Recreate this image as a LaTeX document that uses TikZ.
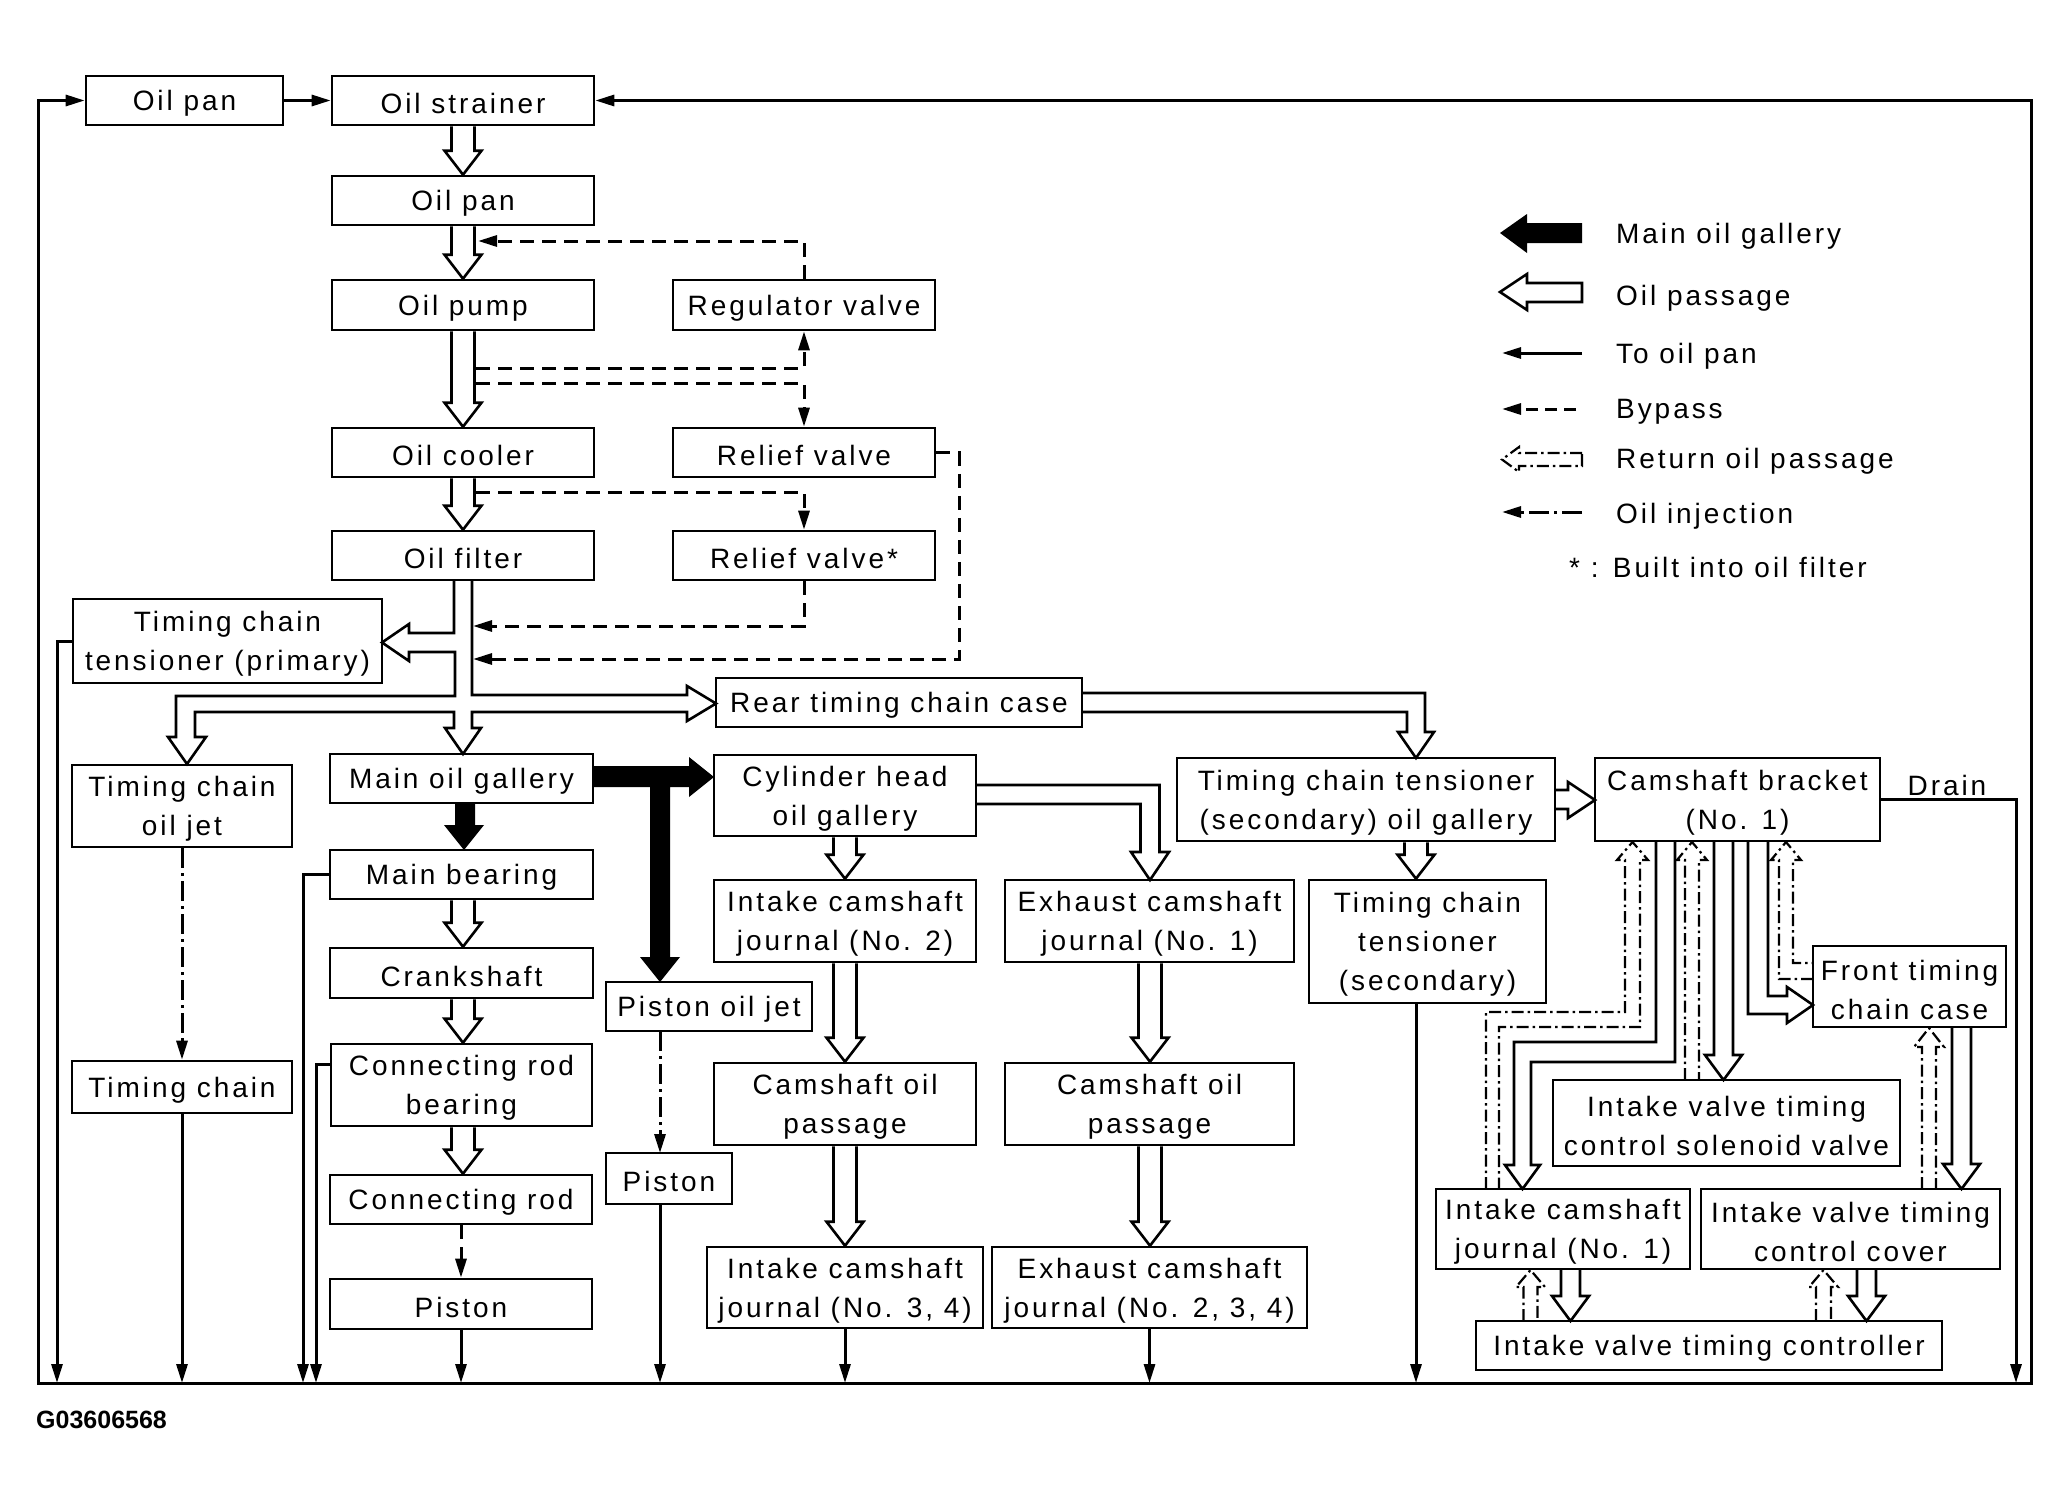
\documentclass[tikz,border=0pt]{standalone}
\usepackage{fontspec}
\setmainfont{Liberation Sans}[LetterSpace=10.5]
\newfontfamily\idfont{Liberation Sans}
\usetikzlibrary{arrows.meta,calc}
\tikzset{
 box/.style={draw, line width=2.6pt, inner sep=0pt},
 boxtext/.style={inner sep=0pt, align=center, font=\fontsize{28}{39}\selectfont, yshift=-3pt},
 flow/.style={line width=3pt, line join=miter},
 tipped/.style={-{Triangle[length=19pt,width=11pt]}},
 hol/.style={line width=2.6pt, line join=miter},
 byp/.style={line width=3pt, dash pattern=on 14pt off 8pt},
 inj/.style={line width=3pt, dash pattern=on 20pt off 5pt on 3pt off 5pt},
 ret/.style={line width=2.2pt, dash pattern=on 12pt off 4pt on 2.5pt off 4pt, line join=miter},
 lbl/.style={font=\fontsize{28}{39}\selectfont, inner sep=0pt, anchor=base west},
}
\newcommand\bx[6]{%
 \pgfmathsetmacro\bw{#4-#2}\pgfmathsetmacro\bh{#5-#3}%
 \node[box,minimum width=\bw pt,minimum height=\bh pt,label={[boxtext]center:#6}] (#1) at ({(#2+#4)/2},{(#3+#5)/2}) {};}
\newcommand\hdown[3]{%
 \draw[hol] let \p1=(#2.south), \p2=(#3.north) in
 ({(#1-11.5)*1pt},\y1) -- ({(#1-11.5)*1pt},\y2+24pt) -- ({(#1-18.5)*1pt},\y2+24pt) --
 ({#1*1pt},\y2) -- ({(#1+18.5)*1pt},\y2+24pt) -- ({(#1+11.5)*1pt},\y2+24pt) -- ({(#1+11.5)*1pt},\y1);}
\begin{document}
\begin{tikzpicture}[x=1pt,y=-1pt]
\fill[white] (0,0) rectangle (2069,1504);
\useasboundingbox (0,0) rectangle (2069,1504);
\coordinate (bot) at (0,1383);
% boxes
\bx{panA}{86}{76}{283}{125}{Oil pan}
\bx{strainer}{332}{76}{594}{125}{Oil strainer}
\bx{panB}{332}{176}{594}{225}{Oil pan}
\bx{pump}{332}{280}{594}{330}{Oil pump}
\bx{cooler}{332}{428}{594}{477}{Oil cooler}
\bx{filter}{332}{531}{594}{580}{Oil filter}
\bx{reg}{673}{280}{935}{330}{Regulator valve}
\bx{relief}{673}{428}{935}{477}{Relief valve}
\bx{reliefs}{673}{531}{935}{580}{Relief valve*}
\bx{tctp}{73}{599}{382}{683}{Timing chain\\tensioner (primary)}
\bx{rear}{716}{678}{1082}{727}{Rear timing chain case}
\bx{tcoj}{72}{765}{292}{847}{Timing chain\\oil jet}
\bx{mog}{330}{754}{593}{803}{Main oil gallery}
\bx{mb}{330}{850}{593}{899}{Main bearing}
\bx{crank}{330}{948}{593}{998}{Crankshaft}
\bx{crb}{331}{1044}{592}{1126}{Connecting rod\\bearing}
\bx{crod}{330}{1175}{592}{1224}{Connecting rod}
\bx{pistA}{330}{1279}{592}{1329}{Piston}
\bx{tch}{72}{1061}{292}{1113}{Timing chain}
\bx{poj}{606}{982}{812}{1031}{Piston oil jet}
\bx{pistB}{606}{1153}{732}{1204}{Piston}
\bx{chog}{714}{755}{976}{836}{Cylinder head\\oil gallery}
\bx{icjb}{714}{880}{976}{962}{Intake camshaft\\journal (No. 2)}
\bx{ecja}{1005}{880}{1294}{962}{Exhaust camshaft\\journal (No. 1)}
\bx{copa}{714}{1063}{976}{1145}{Camshaft oil\\passage}
\bx{copb}{1005}{1063}{1294}{1145}{Camshaft oil\\passage}
\bx{icjc}{707}{1247}{983}{1328}{Intake camshaft\\journal (No. 3, 4)}
\bx{ecjc}{992}{1247}{1307}{1328}{Exhaust camshaft\\journal (No. 2, 3, 4)}
\bx{tctg}{1177}{758}{1555}{841}{Timing chain tensioner\\(secondary) oil gallery}
\bx{tcts}{1309}{880}{1546}{1003}{Timing chain\\tensioner\\(secondary)}
\bx{cbr}{1595}{758}{1880}{841}{Camshaft bracket\\(No. 1)}
\bx{ftc}{1813}{946}{2006}{1027}{Front timing\\chain case}
\bx{sol}{1553}{1080}{1900}{1166}{Intake valve timing\\control solenoid valve}
\bx{icja}{1436}{1189}{1690}{1269}{Intake camshaft\\journal (No. 1)}
\bx{ivc}{1701}{1189}{2000}{1269}{Intake valve timing\\control cover}
\bx{ivt}{1476}{1321}{1942}{1370}{Intake valve timing controller}
% return loop (to oil pan)
\draw[flow,{Triangle[length=19pt,width=11pt]}-{Triangle[length=19pt,width=11pt]}] (panA.west) -| (38,1383) -- (2031,1383) |- (strainer.east);
\draw[flow,tipped] (panA.east) -- (strainer.west);
% drops to oil pan
\draw[flow,tipped] (tctp.west) -| (57,1383);
\draw[flow,tipped] (tch.south) -- (tch.south |- bot);
\draw[flow,tipped] (mb.west) -| (303,1383);
\draw[flow,tipped] (331,1064) -| (316,1383);
\draw[flow,tipped] (pistA.south) -- (pistA.south |- bot);
\draw[flow,tipped] (660,1204) -- (660,1383);
\draw[flow,tipped] (icjc.south) -- (icjc.south |- bot);
\draw[flow,tipped] (ecjc.south) -- (ecjc.south |- bot);
\draw[flow,tipped] (1416,1003) -- (1416,1383);
\draw[flow,tipped] (cbr.east) -| (2016,1383);
\node[lbl,anchor=base] (drain) at (1947,795) {Drain};
% oil injection
\draw[inj,tipped] (tcoj.south) -- (tch.north);
\draw[inj,tipped] (660,1031) -- (660,1153);
% bypass
\draw[byp,tipped] (reg.north) |- (478,241);
\draw[byp,tipped] (476,368) -| (reg.south);
\draw[byp,tipped] (476,383) -| (relief.north);
\draw[byp,tipped] (476,492) -| (reliefs.north);
\draw[byp,tipped] (reliefs.south) |- (473,626);
\draw[byp,tipped] (relief.east) -- (959,452.5) |- (473,659);
\draw[byp,tipped] (crod.south) -- (pistA.north);
% straight oil passages
\hdown{463}{strainer}{panB}
\hdown{463}{panB}{pump}
\hdown{463}{pump}{cooler}
\hdown{463}{cooler}{filter}
\hdown{463}{mb}{crank}
\hdown{463}{crank}{crb}
\hdown{463}{crb}{crod}
\hdown{845}{chog}{icjb}
\hdown{845}{icjb}{copa}
\hdown{845}{copa}{icjc}
\hdown{1150}{ecja}{copb}
\hdown{1150}{copb}{ecjc}
\hdown{1416}{tctg}{tcts}
% filter outflow
\draw[hol] (454,580) -- (454,633) -- (409,633) -- (409,624) -- (382,642.5) -- (409,661) -- (409,652) -- (455,652) -- (455,696) -- (176,696) -- (176,737) -- (168,737) -- (187,764) -- (206,737) -- (195,737) -- (195,712) -- (454,712) -- (454,728) -- (445,728) -- (463,754) -- (481,728) -- (472,728) -- (472,712) -- (687,712) -- (687,721) -- (716,703.5) -- (687,686) -- (687,695) -- (472,695) -- (472,580);
\draw[hol] (1082,693) -- (1425,693) -- (1425,732) -- (1434,732) -- (1416,758) -- (1398,732) -- (1407,732) -- (1407,712) -- (1082,712);
\draw[hol] (976,785) -- (1159.5,785) -- (1159.5,852) -- (1169,852) -- (1150,880) -- (1131,852) -- (1140.5,852) -- (1140.5,804) -- (976,804);
\draw[hol] (1555,790) -- (1568,790) -- (1568,782) -- (1595,800) -- (1568,818) -- (1568,809) -- (1555,809);
% main oil gallery
\fill[black] (593,766) -- (689,766) -- (689,757) -- (714,777) -- (689,797) -- (689,787) -- (670,787) -- (670,957) -- (680,957) -- (660,982) -- (640,957) -- (650,957) -- (650,787) -- (593,787) -- cycle;
\fill[black] (455,803) -- (455,825) -- (444,825) -- (464,850) -- (484,825) -- (475,825) -- (475,803) -- cycle;
% camshaft bracket cluster
\draw[hol] (1656,841) -- (1656,1042) -- (1514,1042) -- (1514,1165) -- (1505,1165) -- (1522.5,1189) -- (1540,1165) -- (1531,1165) -- (1531,1062) -- (1675,1062) -- (1675,841);
\draw[hol] (1714,841) -- (1714,1055) -- (1705,1055) -- (1723.5,1080) -- (1742,1055) -- (1733,1055) -- (1733,841);
\draw[hol] (1748,841) -- (1748,1014) -- (1787,1014) -- (1787,1023) -- (1813,1005) -- (1787,987) -- (1787,996) -- (1768,996) -- (1768,841);
\draw[hol] (1952,1027) -- (1952,1164) -- (1943,1164) -- (1961.5,1189) -- (1980,1164) -- (1971,1164) -- (1971,1027);
\draw[hol] (1561,1269) -- (1561,1296) -- (1552,1296) -- (1570.5,1321) -- (1589,1296) -- (1580,1296) -- (1580,1269);
\draw[hol] (1857,1269) -- (1857,1296) -- (1848,1296) -- (1866.5,1321) -- (1885,1296) -- (1876,1296) -- (1876,1269);
\draw[ret] (1486,1189) -- (1486,1012) -- (1625,1012) -- (1625,860) -- (1617,860) -- (1632.5,842) -- (1648,860) -- (1640,860) -- (1640,1027) -- (1499,1027) -- (1499,1189);
\draw[ret] (1685,1080) -- (1685,860) -- (1677,860) -- (1692,842) -- (1707,860) -- (1699,860) -- (1699,1080);
\draw[ret] (1813,979) -- (1779,979) -- (1779,860) -- (1771,860) -- (1786,842) -- (1801,860) -- (1793,860) -- (1793,963) -- (1813,963);
\draw[ret] (1922,1189) -- (1922,1047) -- (1914,1047) -- (1929,1028) -- (1944,1047) -- (1936,1047) -- (1936,1189);
\draw[ret] (1523.5,1321) -- (1523.5,1287) -- (1516,1287) -- (1530.5,1270) -- (1545,1287) -- (1537.5,1287) -- (1537.5,1321);
\draw[ret] (1816,1321) -- (1816,1287) -- (1809,1287) -- (1823.5,1270) -- (1838,1287) -- (1831,1287) -- (1831,1321);
% legend
\fill[black] (1582,223) -- (1527,223) -- (1527,214) -- (1500,233) -- (1527,253) -- (1527,243) -- (1582,243) -- cycle;
\draw[hol] (1582,283) -- (1527,283) -- (1527,274) -- (1500,292) -- (1527,310) -- (1527,302) -- (1582,302) -- cycle;
\draw[flow,tipped] (1582,353) -- (1502,353);
\draw[byp,tipped,dash pattern=on 12pt off 7pt] (1576,409) -- (1502,409);
\draw[ret] (1582,453) -- (1519,453) -- (1519,447) -- (1502,459.5) -- (1519,472) -- (1519,466) -- (1582,466) -- cycle;
\draw[inj,tipped] (1582,512) -- (1502,512);
\node[lbl] (lg1) at (1616,243) {Main oil gallery};
\node[lbl] (lg2) at (1616,305) {Oil passage};
\node[lbl] (lg3) at (1616,363) {To oil pan};
\node[lbl] (lg4) at (1616,418) {Bypass};
\node[lbl] (lg5) at (1616,468) {Return oil passage};
\node[lbl] (lg6) at (1616,523) {Oil injection};
\node[lbl] (lg7) at (1569,577) {* : Built into oil filter};
\node[anchor=base west,inner sep=0pt,font=\idfont\bfseries\fontsize{25}{30}\selectfont] (gid) at (36,1428) {G03606568};
\end{tikzpicture}
\end{document}
